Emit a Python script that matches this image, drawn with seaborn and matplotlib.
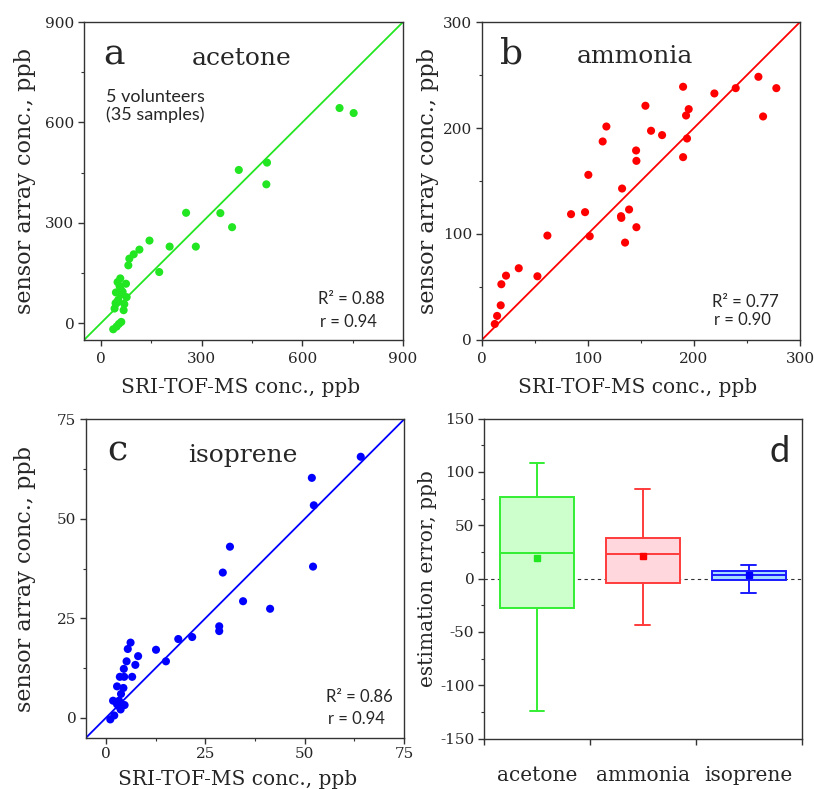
import matplotlib
matplotlib.use("Agg")
import matplotlib.pyplot as plt
import matplotlib.ticker as mtick
import seaborn as sns

# reference (SRI-TOF-MS) vs sensor array, ppb
acetone_ref = [711, 753, 495, 411, 493, 254, 356, 391, 145, 205, 283, 115, 98, 85, 82,
               174, 58, 50, 75, 56, 45, 65, 77, 49, 70, 41, 68, 61, 54, 47, 37, 59, 52, 62, 44]
acetone_sensor = [643, 628, 480, 458, 415, 330, 329, 287, 247, 229, 229, 220, 206, 193, 173,
                  153, 134, 123, 118, 111, 92, 94, 78, 64, 57, 44, 39, 4, -2, -10, -18, 102, 70, 86, 60]

ammonia_ref = [12.3, 14.5, 17.9, 18.5, 22.9, 34.9, 52.5, 61.9, 84.2, 97.4, 101.8, 100.5, 114, 117.5,
               132.3, 131.3, 131.6, 138.9, 135.1, 145.8, 145.5, 145.8, 154.3, 159.6, 170, 189.8,
               189.8, 192.6, 195.1, 193.5, 219.3, 239.4, 260.8, 277.7, 265.2]
ammonia_sensor = [15.1, 22.7, 32.7, 52.6, 60.7, 67.7, 60.1, 98.5, 118.7, 120.6, 97.9, 155.8, 187.3,
                  201.4, 142.9, 116.8, 115.2, 123.1, 91.9, 106.4, 178.8, 169, 221, 197.4, 193.3,
                  238.9, 172.5, 211.8, 217.8, 190.1, 232.6, 237.6, 248.3, 237.6, 210.9]

isoprene_ref = [64.1, 51.8, 52.3, 52.1, 31.2, 29.4, 34.5, 41.3, 28.5, 28.5, 21.7, 18.2, 12.6, 15.1,
                6.2, 5.5, 8.1, 5.2, 7.4, 4.5, 6.6, 4.6, 3.5, 4.4, 2.8, 3.8, 1.8, 3.3, 2.8, 4.7,
                3.7, 2.1, 1.1, 4.3, 3.3]
isoprene_sensor = [65.6, 60.3, 53.4, 38.0, 43.0, 36.5, 29.3, 27.4, 23.0, 21.8, 20.3, 19.8, 17.1, 14.2,
                   18.9, 17.3, 15.5, 14.2, 13.3, 12.3, 10.3, 10.3, 10.3, 7.5, 7.9, 6.0, 4.3, 4.3,
                   3.4, 3.2, 2.1, 0.6, -0.4, 3.2, 2.9]

# estimation error box summary, ppb
gases = ["acetone", "ammonia", "isoprene"]
err_low = [-124, -43.7, -13.8]
err_q1 = [-28, -3.8, -1.6]
err_med = [23.6, 23, 3.1]
err_q3 = [76, 38, 7.2]
err_high = [108.5, 84, 12.9]
err_mean = [18.9, 21, 3.5]

r2_vals = ["0.88", "0.77", "0.86"]
r_vals = ["0.94", "0.90", "0.94"]

sns.set_theme(style="ticks")
plt.rcParams["font.family"] = ["DejaVu Serif"]
plt.rcParams["axes.edgecolor"] = "#333333"
plt.rcParams["axes.linewidth"] = 1.0
plt.rcParams["axes.unicode_minus"] = False

line_colors = ["#22E622", "#FF0000", "#0000FF"]
box_fill = ["#CCFFCC", "#FFD7DD", "#A6DDFF"]
box_edge = ["#33EE33", "#FF3B3B", "#1A1AFF"]
sans = ["Lato", "DejaVu Sans"]

fig = plt.figure(figsize=(8.14, 7.89), dpi=100, facecolor="white")
axA = fig.add_axes([0.1032, 0.5691, 0.3919, 0.4030])
axB = fig.add_axes([0.5918, 0.5691, 0.3910, 0.4030])
axC = fig.add_axes([0.1057, 0.0650, 0.3907, 0.4035])
axD = fig.add_axes([0.5946, 0.0640, 0.3903, 0.4055])

scatter_specs = [
    (axA, acetone_ref, acetone_sensor, (-50, 900), 300, 150, "a", "acetone", (0.06, 0.865), (0.495, 0.865), (0.734, 0.113, 0.042), 4.5),
    (axB, ammonia_ref, ammonia_sensor, (0, 300), 100, 50, "b", "ammonia", (0.0575, 0.871), (0.482, 0.871), (0.724, 0.105, 0.047), 4.5),
    (axC, isoprene_ref, isoprene_sensor, (-5, 75), 25, 12.5, "c", "isoprene", (0.066, 0.872), (0.494, 0.867), (0.755, 0.113, 0.043), 2.5),
]

label_pos = {axA: (-0.185, 0.49, -0.148), axB: (-0.169, 0.49, -0.148), axC: (-0.192, 0.476, -0.13)}

for i, (ax, xs, ys, lims, major, minor, letter, title, lpos, tpos, rpos, xpad) in enumerate(scatter_specs):
    sns.scatterplot(x=xs, y=ys, ax=ax, color=line_colors[i], s=34, edgecolor="none", zorder=3)
    ax.axline((0, 0), slope=1, color=line_colors[i], lw=1.3, zorder=2)
    ax.set_xlim(lims)
    ax.set_ylim(lims)
    ax.xaxis.set_major_locator(mtick.MultipleLocator(major))
    ax.yaxis.set_major_locator(mtick.MultipleLocator(major))
    ax.xaxis.set_minor_locator(mtick.MultipleLocator(minor))
    ax.yaxis.set_minor_locator(mtick.MultipleLocator(minor))
    ax.tick_params(which="major", length=4.5, width=1, labelsize=11, color="#333333")
    ax.tick_params(which="minor", length=2.5, width=0.8, color="#333333")
    ax.tick_params(axis="x", which="major", pad=xpad)
    ax.tick_params(axis="y", which="major", pad=2.5)
    for s in ["top", "right"]:
        ax.spines[s].set_visible(True)
    ax.set_xlabel("SRI-TOF-MS conc., ppb", fontsize=14.5, va="center")
    ax.set_ylabel("sensor array conc., ppb", fontsize=16, va="center")
    yx, xx, xy = label_pos[ax]
    ax.yaxis.set_label_coords(yx, 0.5)
    ax.xaxis.set_label_coords(xx, xy)
    ax.text(lpos[0], lpos[1], letter, transform=ax.transAxes, fontsize=26, va="baseline", ha="left")
    ax.text(tpos[0], tpos[1], title, transform=ax.transAxes, fontsize=18, va="baseline", ha="center")
    ax.text(rpos[0], rpos[1], "R² = " + r2_vals[i], transform=ax.transAxes, fontsize=12,
            family=sans, va="baseline", ha="left")
    ax.text(rpos[0] + 0.005, rpos[2], "r = " + r_vals[i], transform=ax.transAxes, fontsize=12,
            family=sans, va="baseline", ha="left")

axA.text(0.069, 0.749, "5 volunteers", transform=axA.transAxes, fontsize=13, family=sans, va="baseline")
axA.text(0.069, 0.692, "(35 samples)", transform=axA.transAxes, fontsize=13, family=sans, va="baseline")

# panel d: error boxes from summary stats
for i, g in enumerate(gases):
    stats = [{"label": g, "whislo": err_low[i], "q1": err_q1[i], "med": err_med[i],
              "q3": err_q3[i], "whishi": err_high[i], "mean": err_mean[i]}]
    col = box_edge[i]
    axD.bxp(stats, positions=[i], widths=0.7, patch_artist=True, showmeans=True, showfliers=False,
            boxprops={"facecolor": box_fill[i], "edgecolor": col, "linewidth": 1.4},
            medianprops={"color": col, "linewidth": 1.4},
            whiskerprops={"color": col, "linewidth": 1.4},
            capprops={"color": col, "linewidth": 1.4},
            capwidths=0.14,
            meanprops={"marker": "s", "markerfacecolor": line_colors[i], "markeredgecolor": line_colors[i],
                       "markersize": 5}, zorder=3)
axD.axhline(0, color="#333333", lw=0.8, ls=(0, (3, 3)), zorder=1)
axD.set_xlim(-0.5, 2.5)
axD.set_ylim(-150, 150)
axD.set_xticks(range(len(gases)))
axD.set_xticklabels(gases, fontsize=14.5)
axD.xaxis.set_minor_locator(mtick.FixedLocator([-0.5, 0.5, 1.5, 2.5]))
axD.yaxis.set_major_locator(mtick.MultipleLocator(50))
axD.yaxis.set_minor_locator(mtick.MultipleLocator(25))
axD.tick_params(axis="x", which="major", length=0, pad=20)
axD.tick_params(axis="x", which="minor", length=4.5, width=1, color="#333333")
axD.tick_params(axis="y", which="major", length=4.5, width=1, labelsize=11, pad=2.5, color="#333333")
axD.tick_params(axis="y", which="minor", length=2.5, width=0.8, color="#333333")
axD.set_ylabel("estimation error, ppb", fontsize=14.5, va="center")
axD.yaxis.set_label_coords(-0.179, 0.5)
axD.set_xlabel("")
axD.text(0.9, 0.863, "d", transform=axD.transAxes, fontsize=26, family=sans, va="baseline", ha="left")

fig.savefig("out.png", dpi=100, facecolor="white")
